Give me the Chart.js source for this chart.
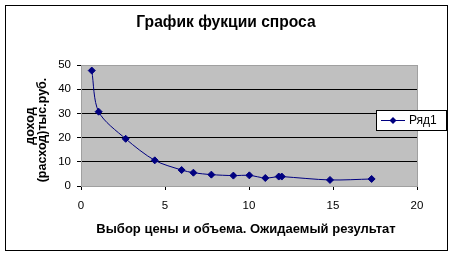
<!doctype html>
<html>
<head>
    <title>График фукции спроса</title>
    <script src="https://cdn.jsdelivr.net/npm/chart.js"></script>
    <style>
        body { margin: 0; background: #fff; }
    </style>
</head>
<body>
    <canvas id="myChart" width="453" height="256"></canvas>

    <script>
        // data
        var priceX = [0.64, 1.05, 2.66, 4.39, 5.99, 6.69, 7.76, 9.07, 10.02, 10.97, 11.77, 11.95, 14.82, 17.3];
        var incomeY = [47.7, 30.7, 19.5, 10.6, 6.6, 5.5, 4.7, 4.3, 4.4, 3.3, 3.9, 3.9, 2.5, 2.9];
        var seriesName = 'Ряд1';
        var chartTitle = 'График фукции спроса';
        var xTitle = 'Выбор цены и объема. Ожидаемый результат';
        var yTitle = ['доход', '(расход)тыс.руб.'];

        var points = priceX.map(function (x, i) { return {x: x, y: incomeY[i]}; });

        // frame, gray plot area, titles and legend, drawn like the Excel chart
        var excelLook = {
            id: 'excelLook',
            beforeDraw: function (chart) {
                var c = chart.ctx, a = chart.chartArea;
                c.save();
                c.fillStyle = '#c0c0c0';
                c.fillRect(a.left, a.top, a.right - a.left, a.bottom - a.top);
                c.restore();
            },
            afterDraw: function (chart) {
                var c = chart.ctx, a = chart.chartArea;
                c.save();
                // plot border
                c.strokeStyle = '#a0a0a0';
                c.lineWidth = 1;
                c.strokeRect(a.left + 0.5, a.top + 0.5, a.right - a.left, a.bottom - a.top);
                // outer frame
                c.strokeStyle = '#000';
                c.strokeRect(5.5, 5.5, 442, 245);

                c.fillStyle = '#000';
                c.textAlign = 'center';
                c.textBaseline = 'middle';
                c.font = 'bold 15.6px Arial, "Liberation Sans"';
                c.fillText(chartTitle, 226, 23);
                c.font = 'bold 13px Arial, "Liberation Sans"';
                c.fillText(xTitle, 246, 229);

                c.font = 'bold 12.5px Arial, "Liberation Sans"';
                c.save();
                c.translate(31, 126);
                c.rotate(-Math.PI / 2);
                c.fillText(yTitle[0], 0, 0);
                c.fillText(yTitle[1], -4, 12);
                c.restore();

                // legend
                c.fillStyle = '#fff';
                c.fillRect(376, 110, 71, 21);
                c.strokeStyle = '#000';
                c.strokeRect(376.5, 110.5, 70, 20);
                c.strokeStyle = '#000080';
                c.beginPath();
                c.moveTo(381, 120.5);
                c.lineTo(405, 120.5);
                c.stroke();
                c.fillStyle = '#000080';
                c.beginPath();
                c.moveTo(393, 117);
                c.lineTo(396.5, 120.5);
                c.lineTo(393, 124);
                c.lineTo(389.5, 120.5);
                c.closePath();
                c.fill();
                c.fillStyle = '#000';
                c.textAlign = 'left';
                c.font = '12px Arial, "Liberation Sans"';
                c.fillText(seriesName, 409, 121);
                c.restore();
            }
        };

        var ctx = document.getElementById('myChart').getContext('2d');
        var chart = new Chart(ctx, {
            type: 'scatter',
            data: {
                datasets: [{
                    label: seriesName,
                    data: points,
                    showLine: true,
                    borderColor: '#000080',
                    borderWidth: 1,
                    tension: 0.3,
                    pointStyle: 'rectRot',
                    pointRadius: 3.5,
                    pointBackgroundColor: '#000080',
                    pointBorderColor: '#000080',
                    fill: false
                }]
            },
            options: {
                responsive: false,
                animation: false,
                layout: { padding: { top: 65, right: 36, left: 0, bottom: 0 } },
                plugins: {
                    legend: { display: false },
                    tooltip: { enabled: false }
                },
                scales: {
                    x: {
                        type: 'linear',
                        min: 0, max: 20,
                        ticks: { stepSize: 5, color: '#000', padding: 9, font: { family: 'Arial, "Liberation Sans"', size: 11.5 } },
                        grid: { drawOnChartArea: false, color: '#000', tickLength: 4 },
                        border: { color: '#000' },
                        afterFit: function (s) { s.height = 70; }
                    },
                    y: {
                        min: 0, max: 50,
                        ticks: { stepSize: 10, color: '#000', padding: 6, font: { family: 'Arial, "Liberation Sans"', size: 11.5 } },
                        grid: { color: '#000', tickLength: 4 },
                        border: { color: '#000' },
                        afterFit: function (s) { s.width = 81; }
                    }
                }
            },
            plugins: [excelLook]
        });
    </script>
</body>
</html>
